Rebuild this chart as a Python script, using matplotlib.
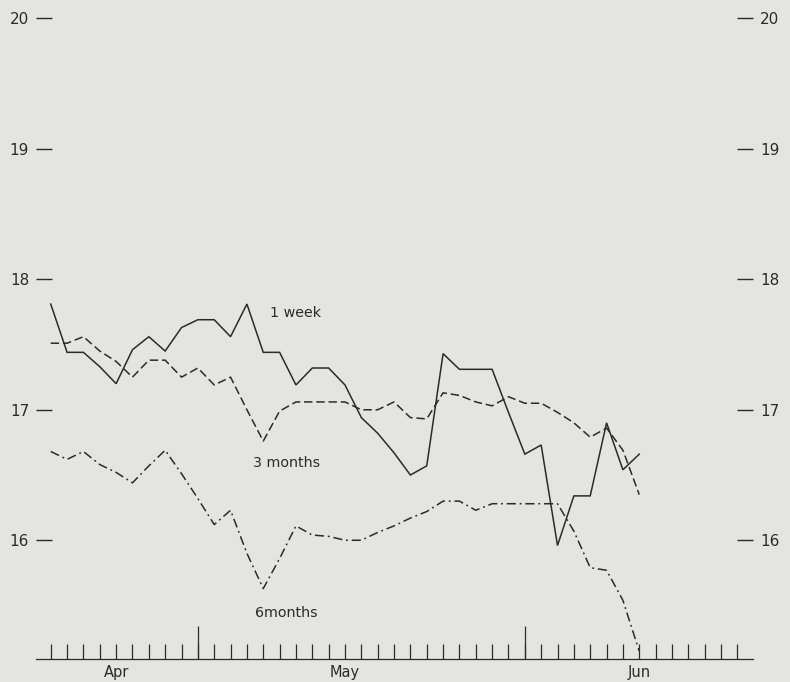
import matplotlib.pyplot as plt

# trading days along the bottom axis, one tick per day
days = list(range(37))
n_ticks = 43
long_ticks = [9, 29]
month_pos = [4, 18, 36]
month_names = ["Apr", "May", "Jun"]

week1 = [17.81, 17.44, 17.44, 17.33, 17.20, 17.46, 17.56, 17.45, 17.63, 17.69,
         17.69, 17.56, 17.81, 17.44, 17.44, 17.19, 17.32, 17.32, 17.19, 16.94,
         16.82, 16.67, 16.50, 16.57, 17.43, 17.31, 17.31, 17.31, 16.98, 16.66,
         16.73, 15.96, 16.34, 16.34, 16.90, 16.54, 16.66]
months3 = [17.51, 17.51, 17.56, 17.45, 17.37, 17.25, 17.38, 17.38, 17.25, 17.32,
           17.19, 17.25, 17.00, 16.76, 16.99, 17.06, 17.06, 17.06, 17.06, 17.00,
           17.00, 17.06, 16.94, 16.93, 17.13, 17.11, 17.06, 17.03, 17.10, 17.05,
           17.05, 16.98, 16.90, 16.79, 16.86, 16.69, 16.35]
months6 = [16.68, 16.62, 16.68, 16.58, 16.52, 16.44, 16.57, 16.69, 16.51, 16.32,
           16.12, 16.23, 15.90, 15.63, 15.86, 16.11, 16.04, 16.03, 16.00, 16.00,
           16.06, 16.11, 16.17, 16.22, 16.30, 16.30, 16.23, 16.28, 16.28, 16.28,
           16.28, 16.28, 16.07, 15.79, 15.77, 15.54, 15.15]
yticks = [16, 17, 18, 19, 20]

bg = "#e4e4e0"
ink = "#2b2b2b"

fig = plt.figure(figsize=(7.9, 6.82), dpi=100, facecolor=bg)
ax = fig.add_axes([0.0456, 0.0337, 0.9074, 0.9663], facecolor=bg)

ax.plot(days, week1, color=ink, lw=1.1, solid_joinstyle="miter")
ax.plot(days, months3, color=ink, lw=1.1, linestyle=(0, (5.5, 2.5)))
ax.plot(days, months6, color=ink, lw=1.1, linestyle=(0, (6, 2.5, 1.2, 2.5)))

ax.text(13.4, 17.74, "1 week", fontsize=10.3, color=ink, va="center")
ax.text(12.4, 16.59, "3 months", fontsize=10.3, color=ink, va="center")
ax.text(12.5, 15.44, "6months", fontsize=10.3, color=ink, va="center")

ax.set_xlim(-0.9, 42.95)
ax.set_ylim(15.09, 20.14)

for s in ["top", "left", "right"]:
    ax.spines[s].set_visible(False)
ax.spines["bottom"].set_color(ink)
ax.spines["bottom"].set_linewidth(0.9)

ax.set_xticks(range(n_ticks))
ax.set_xticklabels([month_names[month_pos.index(i)] if i in month_pos else ""
                    for i in range(n_ticks)])
ax.tick_params(axis="x", direction="in", length=11, width=0.9, color=ink,
               labelsize=10.5, labelcolor=ink, pad=4)

sec = ax.secondary_xaxis("bottom")
sec.set_xticks(long_ticks)
sec.set_xticklabels(["", ""])
sec.spines["bottom"].set_visible(False)
sec.tick_params(direction="in", length=24, width=0.9, color=ink)

ax.set_yticks(yticks)
ax.tick_params(axis="y", direction="in", length=11.5, width=1.0, color=ink,
               left=True, right=True, labelleft=True, labelright=True,
               labelsize=11, labelcolor=ink, pad=5)

fig.savefig("out.png", dpi=100, facecolor=bg)
